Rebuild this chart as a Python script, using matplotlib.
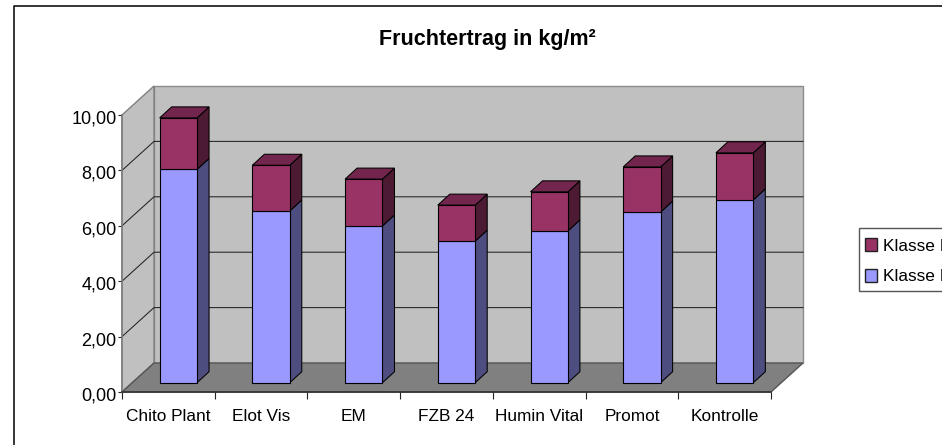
import numpy as np
import matplotlib
matplotlib.use("Agg")
import matplotlib.pyplot as plt
from matplotlib.patches import Polygon, Patch, Rectangle
from matplotlib.lines import Line2D
from matplotlib.transforms import ScaledTranslation

plt.rcParams['font.family'] = ['Liberation Sans', 'DejaVu Sans']

# chart values
categories = ["Chito Plant", "Elot Vis", "EM", "FZB 24", "Humin Vital", "Promot", "Kontrolle"]
klasse_1 = [7.70, 6.20, 5.66, 5.11, 5.48, 6.16, 6.60]
klasse_2 = [1.86, 1.65, 1.69, 1.30, 1.41, 1.63, 1.70]
y_ticks = [0, 2, 4, 6, 8, 10]

W, H = 942, 445
LEFT, RIGHT, TOP, BOTTOM = 122, 771, 115, 392  # front plane in pixels

fig = plt.figure(figsize=(W/100, H/100), dpi=100, facecolor="white")
ax = fig.add_axes([LEFT/W, 1-BOTTOM/H, (RIGHT-LEFT)/W, (BOTTOM-TOP)/H])
ax.set_xlim(0, len(categories))
ax.set_ylim(0, 10)
ax.patch.set_visible(False)

# 3d look: depth of the box and of the bars, in data units
px_x = len(categories)/(RIGHT-LEFT)
px_y = 10/(BOTTOM-TOP)
dx, dy = 32*px_x, 29*px_y
bar_dx, bar_dy = 12*px_x, 11*px_y
base = 9.3*px_y
shift = 10*px_x
bar_w = 37.4*px_x


def poly(pts, color, edge, z, lw=0.75):
    ax.add_patch(Polygon(pts, closed=True, facecolor=color, edgecolor=edge,
                         linewidth=lw, zorder=z, clip_on=False))


n = len(categories)
poly([(dx, dy), (n+dx, dy), (n+dx, 10+dy), (dx, 10+dy)], "#c0c0c0", "#8c8c8c", 1, 1.0)
poly([(0, 0), (dx, dy), (dx, 10+dy), (0, 10)], "#c0c0c0", "#808080", 1, 1.0)
poly([(0, 0), (n, 0), (n+dx, dy), (dx, dy)], "#808080", "#555555", 1.2, 1.0)

for v in y_ticks[1:-1]:
    ax.plot([0, dx, n+dx], [v, v+dy, v+dy], color="#222222", lw=0.75, zorder=1.5, clip_on=False)

x = np.arange(n)+0.5+shift
low = np.array(klasse_1)
up = np.array(klasse_2)
ax.bar(x, low, bar_w, bottom=base, color="#9999ff", edgecolor="black", linewidth=0.8, zorder=5, clip_on=False)
ax.bar(x, up, bar_w, bottom=base+low, color="#993366", edgecolor="black", linewidth=0.8, zorder=5, clip_on=False)
for xi, l, u in zip(x, low, up):
    r = xi+bar_w/2
    a = xi-bar_w/2
    poly([(r, base), (r+bar_dx, base+bar_dy), (r+bar_dx, base+l+bar_dy), (r, base+l)], "#4d4d80", "black", 4)
    poly([(r, base+l), (r+bar_dx, base+l+bar_dy), (r+bar_dx, base+l+u+bar_dy), (r, base+l+u)], "#4d1a33", "black", 4)
    poly([(a, base+l+u), (r, base+l+u), (r+bar_dx, base+l+u+bar_dy), (a+bar_dx, base+l+u+bar_dy)], "#73264d", "black", 4)

for s in ["top", "right"]:
    ax.spines[s].set_visible(False)
ax.spines["left"].set_color("#808080")
ax.spines["left"].set_linewidth(1.2)
ax.spines["bottom"].set_color("#333333")
ax.spines["bottom"].set_linewidth(1.2)

ax.set_yticks(y_ticks)
yl = ["%.2f" % v for v in y_ticks]
ax.set_yticklabels([s.replace(".", ",") for s in yl])
ax.tick_params(axis="y", length=3, width=0.8, pad=1, labelsize=13, color="#222222")
# labels sit a little below the tick in the original
for lab in ax.get_yticklabels():
    lab.set_transform(lab.get_transform()+ScaledTranslation(0, -2/100, fig.dpi_scale_trans))
ax.set_xticks(np.arange(n+1))
ax.set_xticklabels([])
ax.set_xticks(np.arange(n)+0.5, minor=True)
ax.set_xticklabels(categories, minor=True)
ax.tick_params(axis="x", which="major", length=5, width=0.8, color="#222222")
ax.tick_params(axis="x", which="minor", length=0, pad=12, labelsize=12.4)

fig.text(487/W, 1-39/H, "Fruchtertrag in kg/m²", ha="center", va="center", fontsize=15.5, fontweight="bold")

# outer frame, only left and top are on the image
fig.add_artist(Line2D([13.5/W, 13.5/W, 1], [0, 1-6/H, 1-6/H], color="black", lw=1.1))

# legend box runs past the right edge of the picture
fig.add_artist(Rectangle((859.3/W, 1-290.7/H), 100/W, 63/H, transform=fig.transFigure,
                         facecolor="white", edgecolor="#555555", lw=1.0))
handles = [Patch(facecolor="#993366", edgecolor="#222222", label="Klasse II"),
           Patch(facecolor="#9999ff", edgecolor="#222222", label="Klasse I")]
fig.legend(handles=handles, loc="upper left", bbox_to_anchor=(865/W, 1-238/H), borderaxespad=0,
           fontsize=12.4, frameon=False, handlelength=0.7, handleheight=0.8,
           handletextpad=0.32, labelspacing=0.89, borderpad=0)

fig.savefig("out.png", dpi=100)
